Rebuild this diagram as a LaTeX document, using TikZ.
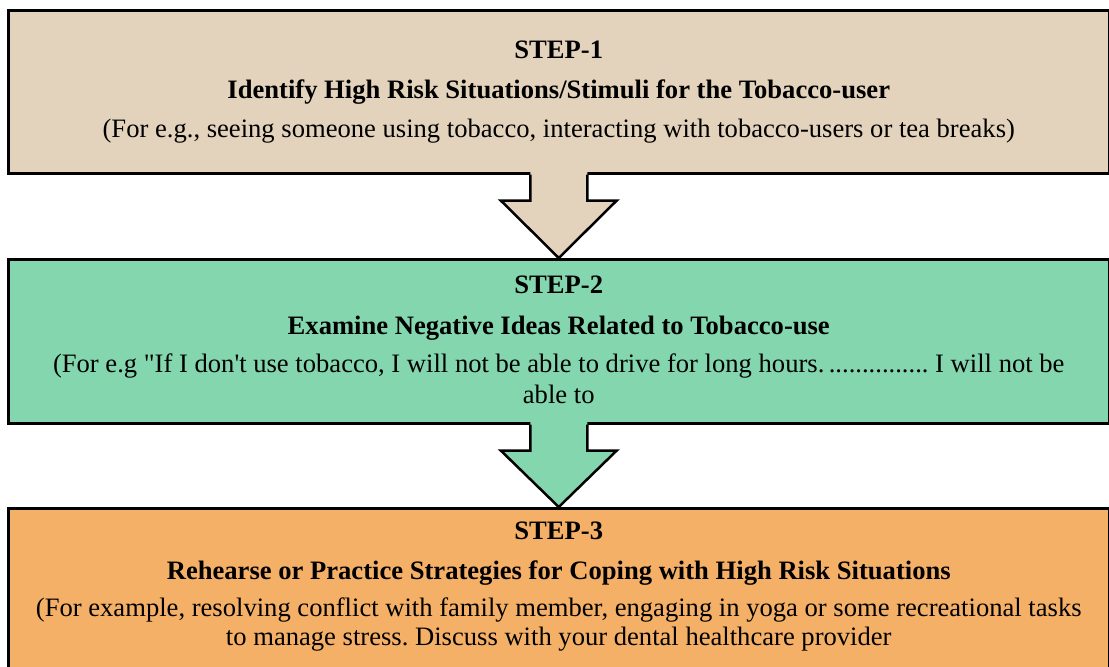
\documentclass[tikz,border=0pt]{standalone}
\usepackage{fontspec}
\setmainfont{Liberation Serif}[Ligatures=TeXOff]
\usetikzlibrary{calc}
\definecolor{tanfill}{HTML}{E4D3BC}
\definecolor{greenfill}{HTML}{84D6AF}
\definecolor{orangefill}{HTML}{F5B068}
\frenchspacing
\begin{document}
\begin{tikzpicture}[x=1pt,y=-1pt,
  stepbox/.style={draw=black, line width=2.5pt, inner sep=0pt, minimum width=1101pt, anchor=north west},
  txt/.style={anchor=base, inner sep=0pt, font=\fontsize{26.6}{30}\selectfont},
  boldtxt/.style={anchor=base, inner sep=0pt, font=\fontsize{26.6}{30}\selectfont\bfseries},
  arrowline/.style={draw=black, line width=2.5pt, line join=miter}]
\useasboundingbox (0,0) rectangle (1109,667);
\clip (0,0) rectangle (1109,667);
% boxes
\node[stepbox, fill=tanfill, minimum height=163pt] (b1) at (7,9) {};
\node[stepbox, fill=greenfill, minimum height=164pt] (b2) at (7,258) {};
\node[stepbox, fill=orangefill, minimum height=165pt] (b3) at (7,507) {};
% texts box 1
\node[boldtxt] (s1) at ($(b1.north)+(0,49)$) {STEP-1};
\node[boldtxt] (t1) at ($(b1.north)+(0,89)$) {Identify High Risk Situations/Stimuli for the Tobacco-user};
\node[txt] (p1) at ($(b1.north)+(0,128)$) {(For e.g., seeing someone using tobacco, interacting with tobacco-users or tea breaks)};
% texts box 2
\node[boldtxt] (s2) at ($(b2.north)+(0,35)$) {STEP-2};
\node[boldtxt] (t2) at ($(b2.north)+(0,76)$) {Examine Negative Ideas Related to Tobacco-use};
\node[txt] (p2a) at ($(b2.north)+(0,114)$) {(For e.g "If I don't use tobacco, I will not be able to drive for long hours.\,............... I will not be};
\node[txt] (p2b) at ($(b2.north)+(0,145)$) {able to};
% texts box 3
\node[boldtxt] (s3) at ($(b3.north)+(0,32)$) {STEP-3};
\node[boldtxt] (t3) at ($(b3.north)+(0,72)$) {Rehearse or Practice Strategies for Coping with High Risk Situations};
\node[txt] (p3a) at ($(b3.north)+(0,109)$) {(For example, resolving conflict with family member, engaging in yoga or some recreational tasks};
\node[txt] (p3b) at ($(b3.north)+(0,138)$) {to manage stress. Discuss with your dental healthcare provider};
% arrow 1
\fill[tanfill] ($(b1.south)+(-28.5,-3)$) -- ($(b1.south)+(-28.5,26)$) -- ($(b1.south)+(-58,26)$) -- (b2.north) -- ($(b1.south)+(58,26)$) -- ($(b1.south)+(28.5,26)$) -- ($(b1.south)+(28.5,-3)$) -- cycle;
\draw[arrowline] ($(b1.south)+(-28.5,0)$) -- ($(b1.south)+(-28.5,26)$) -- ($(b1.south)+(-58,26)$) -- (b2.north) -- ($(b1.south)+(58,26)$) -- ($(b1.south)+(28.5,26)$) -- ($(b1.south)+(28.5,0)$);
% arrow 2
\fill[greenfill] ($(b2.south)+(-28.5,-3)$) -- ($(b2.south)+(-28.5,26)$) -- ($(b2.south)+(-58,26)$) -- (b3.north) -- ($(b2.south)+(58,26)$) -- ($(b2.south)+(28.5,26)$) -- ($(b2.south)+(28.5,-3)$) -- cycle;
\draw[arrowline] ($(b2.south)+(-28.5,0)$) -- ($(b2.south)+(-28.5,26)$) -- ($(b2.south)+(-58,26)$) -- (b3.north) -- ($(b2.south)+(58,26)$) -- ($(b2.south)+(28.5,26)$) -- ($(b2.south)+(28.5,0)$);
\end{tikzpicture}
\end{document}
